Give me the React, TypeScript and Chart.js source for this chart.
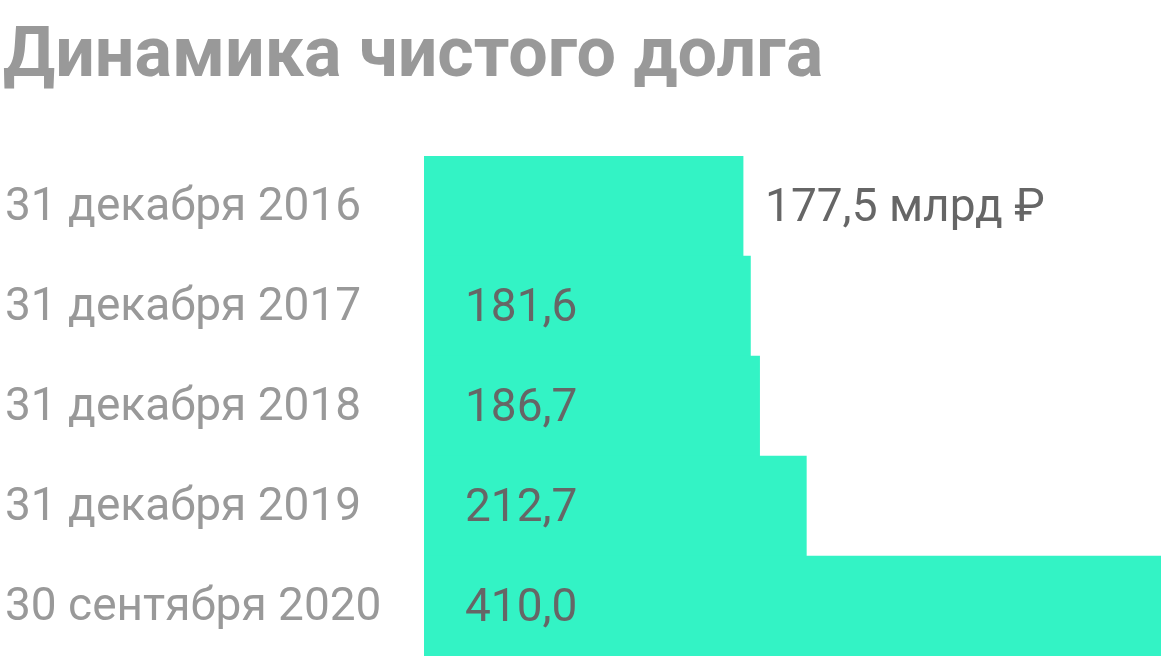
import { useEffect, useRef } from "react"
import { Chart, registerables } from "chart.js"

Chart.register(...registerables)

const title = "Динамика чистого долга"
const categories = [
  "31 декабря 2016",
  "31 декабря 2017",
  "31 декабря 2018",
  "31 декабря 2019",
  "30 сентября 2020",
]
const netDebt = [177.5, 181.6, 186.7, 212.7, 410.0]
const firstSuffix = " млрд ₽"

const fmt = (v: number) => v.toFixed(1).replace(".", ",")

export default function App() {
  const chartRef = useRef<HTMLCanvasElement>(null)
  const chartInstance = useRef<Chart | null>(null)

  useEffect(() => {
    document.body.style.margin = "0"
    if (!chartRef.current) return
    if (chartInstance.current) chartInstance.current.destroy()

    // title + value labels drawn on top of the chart
    const labelsPlugin = {
      id: "labels",
      afterDraw(chart: Chart) {
        const ctx = chart.ctx
        ctx.save()
        ctx.fillStyle = "#999999"
        ctx.font = "bold 70px Roboto"
        ctx.textBaseline = "alphabetic"
        ctx.textAlign = "left"
        ctx.fillText(title, 3, 76)

        const meta = chart.getDatasetMeta(0)
        ctx.font = "46px Roboto"
        ctx.fillStyle = "#666666"
        ctx.textBaseline = "middle"
        meta.data.forEach((bar: any, i: number) => {
          if (i === 0) {
            ctx.fillText(fmt(netDebt[i]) + firstSuffix, bar.x + 22, bar.y + 3)
          } else {
            ctx.fillText(fmt(netDebt[i]), chart.chartArea.left + 41, bar.y + 3)
          }
        })
        ctx.restore()
      },
    }

    chartInstance.current = new Chart(chartRef.current, {
      type: "bar",
      data: {
        labels: categories,
        datasets: [
          {
            data: netDebt,
            backgroundColor: "#33F3C5",
            borderWidth: 0,
            categoryPercentage: 1,
            barPercentage: 1,
          },
        ],
      },
      options: {
        indexAxis: "y",
        responsive: false,
        animation: false,
        layout: { padding: { top: 156, left: 5, right: 0, bottom: 0 } },
        scales: {
          x: { display: false, min: 0, max: 410 },
          y: {
            grid: { display: false },
            border: { display: false },
            ticks: {
              color: "#999999",
              font: { family: "Roboto", size: 46 },
              crossAlign: "far",
              padding: 0,
              labelOffset: 2,
            },
            afterFit: (scale: any) => {
              scale.width = 419
              scale.paddingTop = 0
              scale.paddingBottom = 0
            },
          },
        },
        plugins: {
          legend: { display: false },
          tooltip: { enabled: false },
        },
      },
      plugins: [labelsPlugin],
    })

    return () => {
      if (chartInstance.current) {
        chartInstance.current.destroy()
        chartInstance.current = null
      }
    }
  }, [])

  return (
    <div style={{ width: 1161, height: 656 }}>
      <canvas ref={chartRef} width={1161} height={656} />
    </div>
  )
}
